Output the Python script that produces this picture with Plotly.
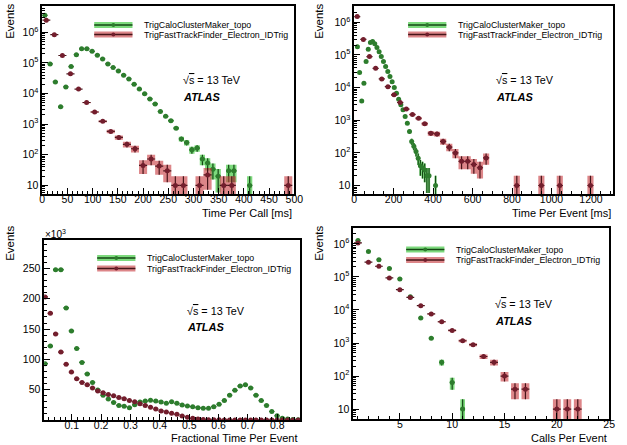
import numpy as np
import plotly.graph_objects as go

W, H = 627, 445

# ---------------- data ----------------
# Panel 1: Time Per Call [ms]
p1_green_binw = 500 / 48
p1_green = [3.6e6, 9.3e4, 2.4e4, 3.7e3, 1.65e4, 7.6e4, 1.87e5, 2.9e5, 2.9e5, 2.4e5,
            1.8e5, 1.35e5, 9.3e4, 7.1e4, 5.5e4, 4.0e4, 3.0e4, 2.0e4, 1.4e4, 9.8e3,
            6.7e3, 4.6e3, 2.6e3, 1.8e3, 1.3e3, 740, 330, 250, 146, 166,
            73, 54, 34, 20, 0, 30, 30, 0, 0, 10]
p1_red_binw = 16
p1_red = [2.5e6, 8.4e5, 1.75e5, 4.4e4, 1.4e4, 5.1e3, 2.5e3, 1.24e3, 580, 370,
          220, 158, 45, 73, 43, 30, 10, 10, 0, 10,
          22, 0, 10, 10, 0, 0, 0, 0, 0, 0, 10]

# Panel 2: Time Per Event [ms]
p2_green_binw = 11
p2_green = [0, 1.8e5, 2.9e4, 3.9e3, 1.35e4, 6.3e4, 1.5e5, 2.4e5, 2.6e5, 2.2e5,
            1.7e5, 1.26e5, 8.9e4, 6.3e4, 4.4e4, 3.1e4, 2.2e4, 1.5e4, 1.0e4, 6.7e3,
            4.4e3, 3.0e3, 2.1e3, 1.3e3, 810, 450, 225, 160, 110, 69,
            40, 35, 30, 20, 20, 0, 0, 10]
p2_red_binw = 31.1
p2_red = [1.5e6, 3.0e5, 8.9e4, 3.9e4, 1.85e4, 1.07e4, 6.0e3, 3.5e3, 2.2e3, 1.5e3,
          1.15e3, 780, 400, 380, 225, 150, 100, 55, 55, 44,
          35, 70, 0, 0, 0, 0, 10, 0, 0, 0,
          10, 0, 0, 10, 0, 0, 0, 0, 10]

# Panel 3: Fractional Time Per Event (values in units of 10^3)
p3_binw = 0.88 / 49
p3_green = [93, 122, 248, 248, 185, 147, 118, 95, 76, 62,
            49.5, 41, 34.6, 29, 24, 22.5, 20.3, 25, 29.7, 31.3,
            32.5, 31.3, 29.7, 27.5, 30, 27.5, 24.7, 23, 22, 20.3,
            19.3, 19.3, 22, 26, 32, 41, 49, 56, 58, 53,
            41, 32, 24, 14, 7, 3, 1.5, 1, 0.5]
p3_red = [203, 176, 142, 112, 92, 79, 68, 62, 58, 53,
          48, 45, 42, 40, 37, 35, 32, 30, 27, 24,
          21, 18, 15, 13, 11, 9.3, 6.5, 4.4, 2.7, 1.6,
          1.0, 0.6, 0.4, 0.3, 0.2, 0.15, 0.1, 0.1, 0.1, 0.05,
          0.05, 0.05, 0.05, 0.02, 0.02, 0.02, 0.01, 0.01, 0.01]

# Panel 4: Calls Per Event
p4_green_x = list(range(1, 12))
p4_green = [1.26e6, 5.9e5, 3.3e5, 1.8e5, 8.7e4, 2.5e4, 5.7e3, 1.4e3, 260, 64, 10]
p4_red_x = list(range(1, 23))
p4_red = [1.07e6, 2.8e5, 2.1e5, 9.3e4, 4.1e4, 2.4e4, 1.35e4, 7.6e3, 4.4e3, 2.4e3,
          1.17e3, 890, 390, 260, 100, 40, 40, 0, 0, 10, 10, 10]

green_label = "TrigCaloClusterMaker_topo"
red_label = "TrigFastTrackFinder_Electron_IDTrig"

# ---------------- style ----------------
FONT = "Liberation Sans, Arial, Helvetica, sans-serif"
GREEN_BOX = "rgba(45,195,45,0.62)"
GREEN_LINE = "rgb(20,70,20)"
GREEN_MK = "rgb(45,125,45)"
RED_BOX = "rgba(200,60,65,0.62)"
RED_LINE = "rgb(70,20,25)"
RED_MK = "rgb(115,30,45)"
ERRW = 10.0


def px(xp):
    return xp / W


def py(yp):
    return 1 - yp / H


fig = go.Figure()


def add_hist(xc, vals, width, xa, ya, box_col, line_col, mk_col, log, scale=1.0, mk=5):
    bx, by, lx, ly, mx, my = [], [], [], [], [], []
    for x, v in zip(xc, vals):
        if v is None or v <= 0:
            continue
        e = np.sqrt(ERRW * v * scale) / scale
        lo, hi = v - e, v + e
        if log and lo <= 0:
            lo = 1e-3
        h = width / 2
        bx += [x - h, x + h, x + h, x - h, x - h, None]
        by += [lo, lo, hi, hi, lo, None]
        lx += [x - h, x + h, None, x, x, None]
        ly += [v, v, None, lo, hi, None]
        mx.append(x)
        my.append(v)
    fig.add_trace(go.Scatter(x=bx, y=by, xaxis=xa, yaxis=ya, mode="lines", fill="toself",
                             fillcolor=box_col, line=dict(width=0), hoverinfo="skip"))
    fig.add_trace(go.Scatter(x=lx, y=ly, xaxis=xa, yaxis=ya, mode="lines",
                             line=dict(color=line_col, width=1.2), hoverinfo="skip"))
    fig.add_trace(go.Scatter(x=mx, y=my, xaxis=xa, yaxis=ya, mode="markers",
                             marker=dict(color=mk_col, size=mk, line=dict(width=0))))


def centers(n, w):
    return [(i + 0.5) * w for i in range(n)]


# Panel 1
add_hist(centers(len(p1_green), p1_green_binw), p1_green, p1_green_binw, "x", "y",
         GREEN_BOX, GREEN_LINE, GREEN_MK, True)
add_hist(centers(len(p1_red), p1_red_binw), p1_red, p1_red_binw, "x", "y",
         RED_BOX, RED_LINE, RED_MK, True)
# Panel 2
add_hist(centers(len(p2_green), p2_green_binw), p2_green, p2_green_binw, "x2", "y2",
         GREEN_BOX, GREEN_LINE, GREEN_MK, True)
add_hist(centers(len(p2_red), p2_red_binw), p2_red, p2_red_binw, "x2", "y2",
         RED_BOX, RED_LINE, RED_MK, True)
# Panel 3
add_hist(centers(len(p3_green), p3_binw), p3_green, p3_binw, "x3", "y3",
         GREEN_BOX, GREEN_LINE, GREEN_MK, False, scale=1000.0)
add_hist(centers(len(p3_red), p3_binw), p3_red, p3_binw, "x3", "y3",
         RED_BOX, RED_LINE, RED_MK, False, scale=1000.0)
# Panel 4
add_hist(p4_green_x, p4_green, 0.45, "x4", "y4", GREEN_BOX, GREEN_LINE, GREEN_MK, True)
add_hist(p4_red_x, p4_red, 0.75, "x4", "y4", RED_BOX, RED_LINE, RED_MK, True)

# ---------------- axes ----------------
tickfont = dict(family=FONT, size=10.5, color="black")
log_major = [10 ** k for k in range(1, 7)]
log_text = ["10"] + ["10<sup>%d</sup>" % k for k in range(2, 7)]
log_minor = [m * 10 ** k for k in range(0, 7) for m in range(2, 10)]


def base_axis(domain, anchor):
    return dict(domain=domain, anchor=anchor, showline=True, mirror=True,
                linecolor="black", linewidth=1.5, ticks="inside", ticklen=6,
                tickwidth=1, tickcolor="black", showgrid=False, zeroline=False,
                tickfont=tickfont)


def xdom(x0, x1):
    return [px(x0), px(x1)]


def ydom(y0, y1):
    return [py(y1), py(y0)]


def xaxis(domain, anchor, rng, major, minor):
    d = base_axis(domain, anchor)
    d.update(range=rng, tickmode="array", tickvals=major,
             ticktext=[("%g" % v) for v in major], ticklabelstandoff=-5,
             minor=dict(ticks="inside", ticklen=3, tickcolor="black", tickwidth=1,
                        tickmode="array", tickvals=minor, showgrid=False))
    return d


def ylog(domain, anchor, rng):
    d = base_axis(domain, anchor)
    d.update(type="log", range=rng, tickmode="array", tickvals=log_major, ticktext=log_text,
             minor=dict(ticks="inside", ticklen=3, tickcolor="black", tickwidth=1,
                        tickmode="array", tickvals=log_minor, showgrid=False))
    return d


layout = dict(width=W, height=H, margin=dict(l=0, r=0, t=0, b=0),
              paper_bgcolor="white", plot_bgcolor="white", showlegend=False)

layout["xaxis"] = xaxis(xdom(40, 297), "y", [0, 500], list(range(0, 501, 50)),
                        [v for v in range(0, 501, 10) if v % 50])
layout["yaxis"] = ylog(ydom(6, 194), "x", [0.72, 6.86])

layout["xaxis2"] = xaxis(xdom(358, 622), "y2", [0, 1312], list(range(0, 1201, 200)),
                         [v for v in range(0, 1312, 50) if v % 200])
layout["yaxis2"] = ylog(ydom(6, 194), "x2", [0.74, 6.5])

p3_major = [0.1, 0.2, 0.3, 0.4, 0.5, 0.6, 0.7, 0.8]
p3_minor = [round(0.02 * i, 2) for i in range(0, 45) if i % 5]
layout["xaxis3"] = xaxis(xdom(42, 303), "y3", [0.006, 0.878], p3_major, p3_minor)
d3 = base_axis(ydom(240, 420), "x3")
d3.update(range=[0, 297], tickmode="array", tickvals=[50, 100, 150, 200, 250],
          ticktext=["50", "100", "150", "200", "250"],
          minor=dict(ticks="inside", ticklen=3, tickcolor="black", tickwidth=1,
                     tickmode="array", tickvals=[v for v in range(10, 300, 10) if v % 50],
                     showgrid=False))
layout["yaxis3"] = d3

layout["xaxis4"] = xaxis(xdom(357, 618), "y4", [0.54, 25], [5, 10, 15, 20, 25],
                         [v for v in range(1, 26) if v % 5])
layout["yaxis4"] = ylog(ydom(228, 419), "x4", [0.70, 6.48])

fig.update_layout(**layout)

# ---------------- annotations: titles, legends, labels ----------------
ann = []
shapes = []


def text(x, y, s, size, xanchor="left", yanchor="middle", angle=0):
    ann.append(dict(x=px(x), y=py(y), xref="paper", yref="paper", text=s, showarrow=False,
                    xanchor=xanchor, yanchor=yanchor, textangle=angle,
                    font=dict(family=FONT, size=size, color="black")))


def legend(x0, yg, yr, tx):
    for yc, box, line, mk, lab in [(yg, GREEN_BOX, GREEN_LINE, GREEN_MK, green_label),
                                   (yr, RED_BOX, RED_LINE, RED_MK, red_label)]:
        shapes.append(dict(type="rect", xref="paper", yref="paper", x0=px(x0), x1=px(x0 + 39),
                           y0=py(yc + 3), y1=py(yc - 3), fillcolor=box, line=dict(width=0)))
        shapes.append(dict(type="line", xref="paper", yref="paper", x0=px(x0), x1=px(x0 + 39),
                           y0=py(yc), y1=py(yc), line=dict(color=line, width=1.5)))
        shapes.append(dict(type="circle", xref="paper", yref="paper", x0=px(x0 + 17.5),
                           x1=px(x0 + 21.5), y0=py(yc + 2), y1=py(yc - 2), fillcolor=mk,
                           line=dict(width=0)))
        text(tx, yc, lab, 8.8)


sqrt_txt = "\u221a<span style='text-decoration:overline'>s</span> = 13 TeV"

# Panel 1
text(7, 21, "Events", 11.5, "center", "middle", -90)
text(297, 213, "Time Per Call [ms]", 11, "right", "middle")
legend(93, 25, 34.5, 141.5)
text(181, 80.5, sqrt_txt, 10.8)
text(181, 97.5, "<b><i>ATLAS</i></b>", 11)

# Panel 2
text(322, 21, "Events", 11.5, "center", "middle", -90)
text(622, 213, "Time Per Event [ms]", 11, "right", "middle")
legend(413, 25, 34.5, 461.5)
text(501, 80.5, sqrt_txt, 10.8)
text(501, 97.5, "<b><i>ATLAS</i></b>", 11)

# Panel 3
text(7, 243, "Events", 11.5, "center", "middle", -90)
text(303, 438, "Fractional Time Per Event", 11, "right", "middle")
text(41, 234, "\u00d710<sup>3</sup>", 10, "left", "middle")
legend(96, 258, 268.5, 145)
text(186, 311, sqrt_txt, 10.8)
text(186, 326.5, "<b><i>ATLAS</i></b>", 11)

# Panel 4
text(322, 243, "Events", 11.5, "center", "middle", -90)
text(618, 438, "Calls Per Event", 11, "right", "middle")
legend(411, 249.5, 260, 460)
text(500, 304, sqrt_txt, 10.8)
text(500, 321, "<b><i>ATLAS</i></b>", 11)

fig.update_layout(annotations=ann, shapes=shapes)
fig.write_html("out.html", config={"displayModeBar": False},
               post_script="document.body.style.margin='0px';document.body.style.padding='0px';")
